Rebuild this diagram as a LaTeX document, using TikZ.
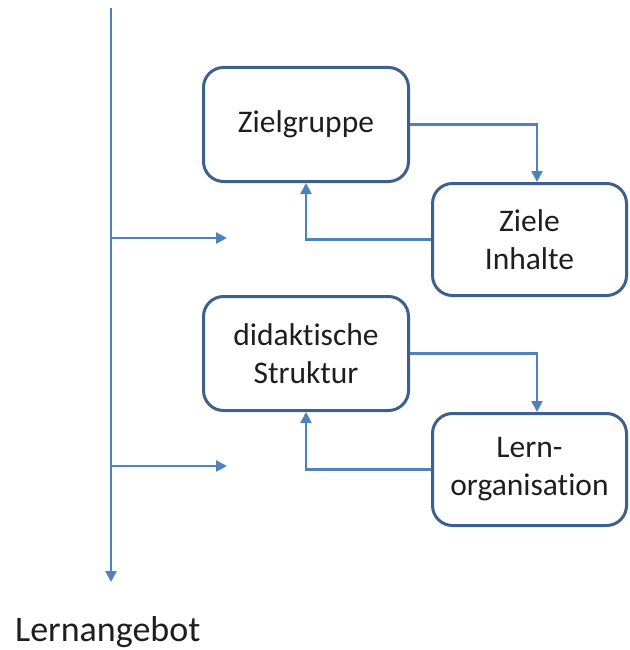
\documentclass[tikz,border=0pt]{standalone}
\usepackage{fontspec}
\setmainfont{Carlito}[RawFeature={-liga;-clig;-dlig}]
\usetikzlibrary{arrows.meta,calc}
\definecolor{boxline}{RGB}{62,96,140}
\definecolor{flow}{RGB}{79,129,189}
\definecolor{ink}{RGB}{30,30,30}
\begin{document}
\begin{tikzpicture}[x=1pt,y=-1pt,
  stage/.style={draw=boxline, line width=3pt, rounded corners=20pt,
    align=center, text=ink, inner sep=0pt,
    font=\fontsize{31.5}{38}\selectfont},
  flowline/.style={draw=flow, line width=2.4pt,
    -{Triangle[length=11pt,width=11pt]}}]
  \useasboundingbox (0,0) rectangle (629,650);

  % stages of the planning cycle
  \node[stage, minimum width=205pt, minimum height=114pt] (zg) at (306,124.5) {Zielgruppe};
  \node[stage, minimum width=194pt, minimum height=112pt] (zi) at (529.5,239.5) {Ziele\\Inhalte};
  \node[stage, minimum width=205pt, minimum height=114pt] (ds) at (306,353.5) {didaktische\\Struktur};
  \node[stage, minimum width=194pt, minimum height=112pt] (lo) at (529.5,469.5) {Lern-\\organisation};

  % main time axis and its branches
  \coordinate (top) at (111,8);
  \coordinate (bottom) at (111,582);
  \coordinate (b1) at (111,238);
  \coordinate (e1) at (227,238);
  \coordinate (b2) at (111,466);
  \coordinate (e2) at (227,466);
  \draw[flowline] (top) -- (bottom);
  \draw[flowline] (b1) -- (e1);
  \draw[flowline] (b2) -- (e2);

  % feedback loops between the stages
  \draw[flowline] (zg.east) -| ($(zi.north)+(7.5,0)$);
  \draw[flowline] (zi.west) -| (zg.south);
  \draw[flowline] (ds.east) -| ($(lo.north)+(7.5,0)$);
  \draw[flowline] (lo.west) -| (ds.south);

  % result label
  \node[anchor=base west, inner sep=0pt, text=ink,
    font=\fontsize{36}{43}\selectfont] (la) at (15,641) {Lernangebot};
\end{tikzpicture}
\end{document}
